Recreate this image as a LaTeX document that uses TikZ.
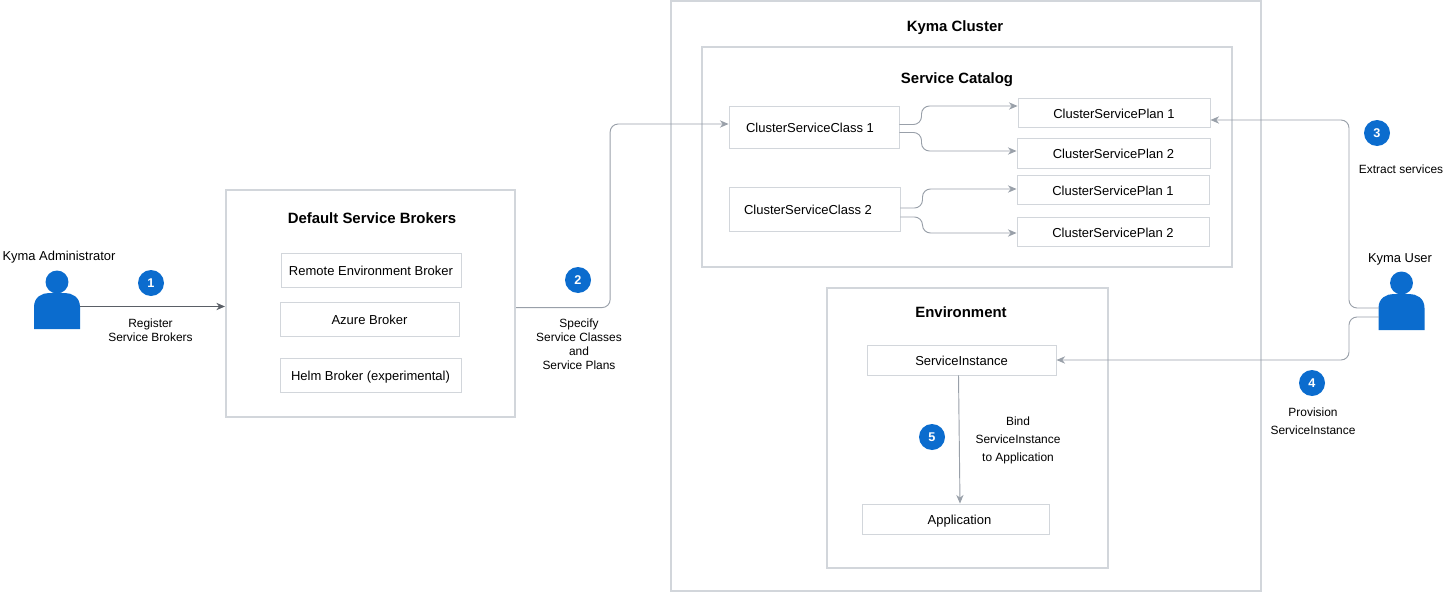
\documentclass[tikz,border=0pt]{standalone}
\usepackage{fontspec}
\setmainfont{Liberation Sans}
\usetikzlibrary{calc,arrows.meta}
\definecolor{kymablue}{HTML}{0B6CCE}
\definecolor{boxgray}{HTML}{D2D6DB}
\definecolor{flowgray}{HTML}{99A0A9}
\definecolor{flowdark}{HTML}{5A5F66}
\tikzset{
  x=.75pt, y=-.75pt,
  group/.style={draw=boxgray, line width=1.6pt, anchor=north west, inner sep=0pt},
  item/.style={draw=boxgray, line width=.7pt, inner sep=0pt, text height=8.6pt, text depth=.6pt, font=\fontsize{9.75}{11}\selectfont},
  title/.style={font=\fontsize{11.2}{13}\selectfont\bfseries, inner sep=0pt},
  actor/.style={font=\fontsize{9.7}{11}\selectfont, inner sep=0pt},
  note/.style={font=\fontsize{8.95}{10.5}\selectfont, align=center, inner sep=0pt},
  wide/.style={font=\fontsize{8.95}{13.5}\selectfont, align=center, inner sep=0pt},
  badge/.style={circle, fill=kymablue, text=white, minimum size=19.5pt, inner sep=0pt, font=\fontsize{9.5}{11}\selectfont\bfseries},
  flow/.style={draw=flowgray, line width=.7pt, rounded corners=6pt, -{Stealth[length=6.5pt,width=5.5pt]}},
  person/.pic={
    \fill[kymablue] (0,-47) circle (8.6pt);
    \fill[kymablue] (-23,0) -- (-23,-22) .. controls (-23,-32) and (-15,-36) .. (-8,-36)
      -- (8,-36) .. controls (15,-36) and (23,-32) .. (23,-22) -- (23,0) -- cycle;
  }
}
\begin{document}
\begin{tikzpicture}
  \useasboundingbox (0,0) rectangle (1445,592);
  % groups
  \node[group, minimum width=442.5pt, minimum height=442.5pt] (cluster) at (670,0) {};
  \node[group, minimum width=397.5pt, minimum height=165pt] (catalog) at (701,46) {};
  \node[group, minimum width=210.75pt, minimum height=210pt] (env) at (826,287) {};
  \node[group, minimum width=216.75pt, minimum height=170.25pt] (brokers) at (225,189) {};
  \node[title] (clusterT) at (955,28) {Kyma Cluster};
  \node[title] (catalogT) at (957,80) {Service Catalog};
  \node[title] (envT) at (961,312) {Environment};
  \node[title] (brokersT) at (372,218) {Default Service Brokers};
  % brokers
  \node[item, minimum width=135pt, minimum height=25.5pt] (remote) at (371,270) {Remote Environment Broker};
  \node[item, minimum width=134.25pt, minimum height=25.5pt] (azure) at (369.5,319) {Azure Broker};
  \node[item, minimum width=135.75pt, minimum height=25.5pt] (helm) at (370.5,375) {Helm Broker (experimental)};
  % catalog
  \node[item, minimum width=127.5pt, minimum height=31.5pt] (class1) at (814,127.5) {ClusterServiceClass 1\kern6pt};
  \node[item, minimum width=128.25pt, minimum height=33pt] (class2) at (814.5,209) {ClusterServiceClass 2\kern9.75pt};
  \node[item, minimum width=144pt, minimum height=22pt] (plan1a) at (1114,113) {ClusterServicePlan 1};
  \node[item, minimum width=144.75pt, minimum height=22pt] (plan2a) at (1113.5,153.5) {ClusterServicePlan 2};
  \node[item, minimum width=144pt, minimum height=22pt] (plan1b) at (1113,190) {ClusterServicePlan 1};
  \node[item, minimum width=144pt, minimum height=22pt] (plan2b) at (1113,232) {ClusterServicePlan 2};
  % environment
  \node[item, minimum width=141.75pt, minimum height=22.5pt] (instance) at (961.5,360) {ServiceInstance};
  \node[item, minimum width=140.25pt, minimum height=22.5pt] (app) at (955.5,519) {\hspace{6pt}Application};
  % users
  \pic at (57,329) {person};
  \pic at (1401.5,330) {person};
  \coordinate (admin) at (80,306.5);
  \coordinate (userUp) at (1379,308);
  \coordinate (userDown) at (1379,317);
  \node[actor] (adminT) at (59,257) {Kyma Administrator};
  \node[actor] (userT) at (1400,259) {Kyma User};
  % connectors
  \draw[flow, draw=flowdark] (admin) -- (brokers.west |- admin);
  \draw[flow] ($(brokers.east)+(0,4)$) -- ++(94,0) |- ($(class1.west)+(0,-3.5)$);
  \draw[flow] ($(class1.east)+(0,-3)$) -- ++(22,0) |- (plan1a.west |- 0,106);
  \draw[flow] ($(class1.east)+(0,5)$) -- ++(22,0) |- (plan2a.west |- 0,151);
  \draw[flow] ($(class2.east)+(0,-1)$) -- ++(22,0) |- (plan1b.west |- 0,189);
  \draw[flow] ($(class2.east)+(0,8)$) -- ++(22,0) |- (plan2b.west |- 0,233);
  \draw[flow] (userUp) -- (1349,308) |- ($(plan1a.east)+(0,7)$);
  \draw[flow] (userDown) -- (1349,317) |- (instance.east);
  \draw[flow, rounded corners=0pt] ($(instance.south)+(-3,0)$) -- ($(app.north)+(4.5,0)$);
  % steps
  \node[badge] (step1) at (151,283) {1};
  \node[badge] (step2) at (578,280) {2};
  \node[badge] (step3) at (1377,133) {3};
  \node[badge] (step4) at (1312,383) {4};
  \node[badge] (step5) at (932,437) {5};
  \node[note] (step1T) at (150.5,330) {Register\\Service Brokers};
  \node[note] (step2T) at (579,344) {Specify\\Service Classes\\and\\Service Plans};
  \node[note] (step3T) at (1401,169) {Extract services};
  \node[wide] (step4T) at (1313,421) {Provision\\ServiceInstance};
  \node[wide] (step5T) at (1018,440) {Bind\\ServiceInstance\\to Application};
\end{tikzpicture}
\end{document}
